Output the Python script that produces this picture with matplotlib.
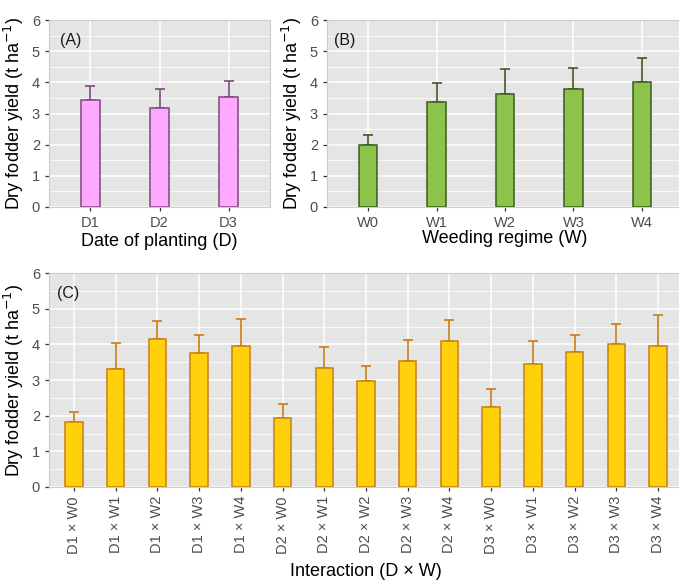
import matplotlib
matplotlib.use('Agg')
import matplotlib.pyplot as plt
import numpy as np

# Panel A: date of planting
dates = ['D1', 'D2', 'D3']
date_mean = [3.42, 3.18, 3.52]
date_err = [0.45, 0.60, 0.53]

# Panel B: weeding regime
weeds = ['W0', 'W1', 'W2', 'W3', 'W4']
weed_mean = [2.00, 3.38, 3.63, 3.78, 4.00]
weed_err = [0.32, 0.60, 0.79, 0.67, 0.79]

# Panel C: interaction
inter_labels = [f'{d} \u00d7 {w}' for d in dates for w in weeds]
inter_mean = [1.81, 3.32, 4.14, 3.76, 3.94,
              1.93, 3.33, 2.96, 3.53, 4.10,
              2.25, 3.46, 3.78, 4.02, 3.95]
inter_top = [2.11, 4.04, 4.66, 4.26, 4.71,
             2.34, 3.92, 3.40, 4.12, 4.67,
             2.74, 4.08, 4.25, 4.58, 4.81]
inter_err = [t - m for t, m in zip(inter_top, inter_mean)]

plt.rcParams['font.family'] = ['Liberation Sans', 'DejaVu Sans']

W, H = 679, 581
fig = plt.figure(figsize=(W / 100, H / 100), dpi=100)


def px_axes(left, top, right, bottom):
    return fig.add_axes([left / W, 1 - bottom / H, (right - left) / W, (bottom - top) / H])


def panel(ax, labels, means, errs, width, fill, edge, tag, tag_xy, xlabel,
          rotate=False, xpad=2):
    x = np.arange(len(labels))
    ax.set_facecolor('#E5E5E5')
    ax.set_axisbelow(True)
    ax.errorbar(x, means, yerr=[np.zeros(len(means)), errs], fmt='none',
                ecolor=edge, elinewidth=1.2, capsize=3.3, capthick=1.2, zorder=2)
    ax.bar(x, means, width=width, color=fill, edgecolor=edge, linewidth=1.1, zorder=3)
    ax.set_xlim(-0.6, len(labels) - 0.4)
    ax.set_ylim(0, 6)
    ax.set_yticks(range(7))
    ax.set_yticks(np.arange(0.5, 6, 1), minor=True)
    ax.set_xticks(x)
    ax.set_xticklabels(labels, rotation=90 if rotate else 0)
    ax.grid(True, which='major', color='white', linewidth=1.1)
    ax.grid(True, which='minor', axis='y', color='white', linewidth=0.55)
    ax.tick_params(axis='both', which='major', length=3, color='#333333',
                   labelcolor='#4D4D4D', labelsize=10.5, width=0.9)
    ax.tick_params(axis='y', which='minor', length=0)
    for s in ax.spines.values():
        s.set_color('#CCCCCC')
        s.set_linewidth(0.8)
    ax.set_ylabel('Dry fodder yield (t ha$^{-1}$)', fontsize=13, labelpad=4)
    ax.set_xlabel(xlabel, fontsize=13, labelpad=xpad)
    ax.text(tag_xy[0], tag_xy[1], tag, transform=ax.transAxes,
            fontsize=11.5, va='center', ha='left', color='#1A1A1A')


axA = px_axes(49, 20, 270, 207)
panel(axA, dates, date_mean, date_err, 0.28, '#FFA8FF', '#7A4A7A', '(A)',
      (0.05, 0.893), 'Date of planting (D)')

axB = px_axes(327, 20, 683, 207)
panel(axB, weeds, weed_mean, weed_err, 0.27, '#8CC34A', '#3F5A1E', '(B)',
      (0.02, 0.893), 'Weeding regime (W)', xpad=0)

axC = px_axes(49, 273, 683, 487)
panel(axC, inter_labels, inter_mean, inter_err, 0.42, '#FFD10D', '#C97E12', '(C)',
      (0.013, 0.906), 'Interaction (D \u00d7 W)', rotate=True, xpad=7)

fig.savefig('out.png', dpi=100)
